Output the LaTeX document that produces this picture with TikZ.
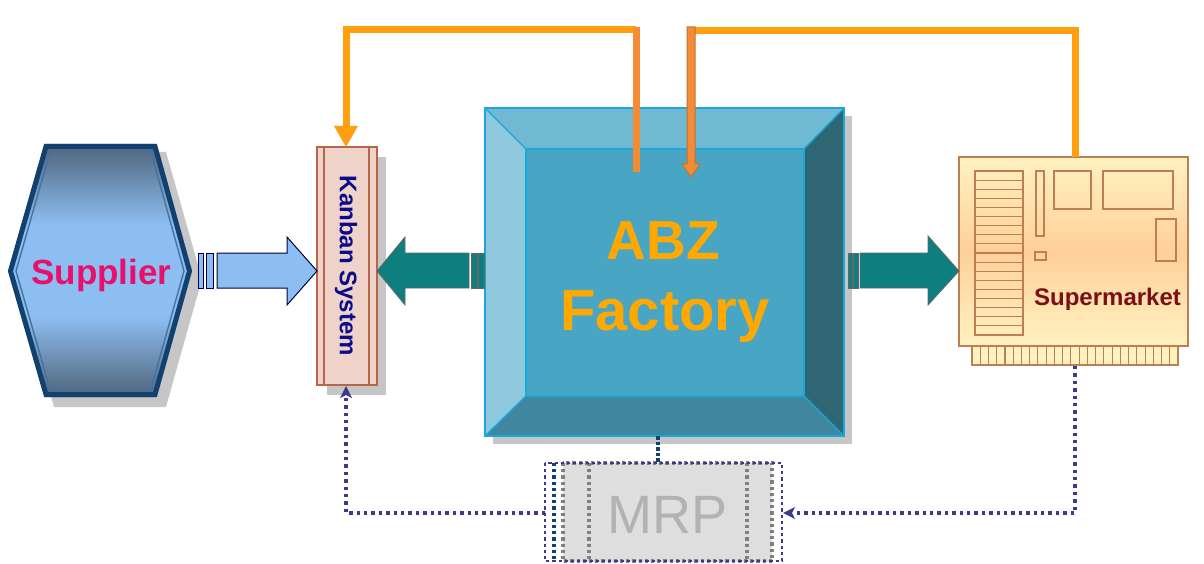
\documentclass[tikz,border=0pt]{standalone}
\usepackage{fontspec}
\setmainfont{Liberation Sans}
\usetikzlibrary{arrows.meta}
\definecolor{hexedge}{HTML}{12406F}
\definecolor{hexdark}{HTML}{506479}
\definecolor{hexlight}{HTML}{8DBEF2}
\definecolor{shadowgray}{HTML}{C6C6C6}
\definecolor{orangeline}{HTML}{FF9E0F}
\definecolor{orangesoft}{HTML}{F58C35}
\definecolor{orangedark}{HTML}{B8743A}
\definecolor{tealarrow}{HTML}{0E7F7F}
\definecolor{edgeblue}{HTML}{1CA6DE}
\definecolor{navydot}{HTML}{3A3A8C}
\definecolor{brownline}{HTML}{BD7F4F}
\definecolor{kanbanfill}{HTML}{EFD3C8}
\definecolor{kanbanline}{HTML}{B5654A}
\definecolor{facetop}{HTML}{6FB9D2}
\definecolor{faceleft}{HTML}{8FC8DC}
\definecolor{faceright}{HTML}{2F6674}
\definecolor{facebottom}{HTML}{3F879F}
\definecolor{facecenter}{HTML}{48A6C4}
\definecolor{factext}{HTML}{FFA800}
\definecolor{supplytext}{HTML}{E8106A}
\definecolor{kanbantextc}{HTML}{0A0A8C}
\definecolor{markettextc}{HTML}{7A0F14}
\definecolor{marketlight}{HTML}{FFF2C0}
\definecolor{marketmid}{HTML}{FFCF9A}
\pgfdeclareverticalshading{hexshade}{100bp}{
  color(0bp)=(hexdark); color(25bp)=(hexdark); color(41bp)=(hexlight); color(59bp)=(hexlight); color(75bp)=(hexdark); color(100bp)=(hexdark)}
\tikzset{
  x=1pt,y=-1pt,
  box/.style={rectangle,inner sep=0pt,outer sep=0pt},
  lightarrow/.style={draw=black!75!blue,line width=1pt,fill=hexlight},
  tealshape/.style={draw=black!60,line width=0.8pt,fill=tealarrow},
  orangeflow/.style={draw=orangeline,line width=7pt,line join=miter},
  softflow/.style={draw=orangesoft,line width=7pt},
  dotflow/.style={draw=navydot,line width=3.4pt,dash pattern=on 3.4pt off 4pt},
  smallbox/.style={draw=brownline,line width=1.4pt},
  fineline/.style={draw=brownline,line width=1.1pt},
  mrpdots/.style={line width=3.2pt,dash pattern=on 3.2pt off 3pt}
}
\newcommand{\pxfont}[1]{\fontsize{#1}{#1}\selectfont}
\begin{document}
\begin{tikzpicture}
\useasboundingbox (0,0) rectangle (1204,564);
\fill[white] (0,0) rectangle (1204,564);

% shadows
\fill[shadowgray] (54,152)--(166,152)--(202,279)--(166,407)--(54,407)--(18,279)--cycle;
\fill[shadowgray] (327,157) rectangle (386,395);
\fill[shadowgray] (493,116) rectangle (852,444);

% --- Supplier
\path[shading=hexshade,draw=none] (45,144)--(156,144)--(192,271)--(156,397)--(45,397)--(8,271)--cycle;
\draw[hexedge,line width=5pt,line join=miter] (46,146.5)--(155,146.5)--(189.5,271)--(155,394.5)--(46,394.5)--(10.5,271)--cycle;
\draw[hexedge!60!hexlight,line width=1.4pt] (50,152)--(151,152)--(184,271)--(151,389)--(50,389)--(16,271)--cycle;
\node[box,minimum width=184pt,minimum height=253pt] (supplier) at (100,271) {};
\node[anchor=base,font=\bfseries\pxfont{35},text=supplytext,inner sep=0pt] (suppliertext) at (101.5,284) {Supplier};

% --- Kanban
\node[box,draw=kanbanline,fill=kanbanfill,line width=1.3pt,minimum width=60pt,minimum height=238pt] (kanban) at (347,266) {};
\draw[kanbanline,line width=1.3pt] (324,147)--(324,385) (369,147)--(369,385);
\node[rotate=-90,font=\bfseries\pxfont{24},text=kanbantextc,inner sep=0pt] (kanbantext) at (346,266) {Kanban System};

% --- Factory
\node[box,minimum width=359pt,minimum height=328pt] (factory) at (664.5,272) {};
\fill[facetop] (485,108)--(844,108)--(804,149)--(526,149)--cycle;
\fill[faceleft] (485,108)--(526,149)--(526,396)--(485,436)--cycle;
\fill[faceright] (844,108)--(844,436)--(804,396)--(804,149)--cycle;
\fill[facebottom] (485,436)--(526,396)--(804,396)--(844,436)--cycle;
\fill[facecenter] (526,149) rectangle (804,396);
\draw[edgeblue,line width=2.4pt] (485,108) rectangle (844,436) (526,149) rectangle (804,396);
\draw[edgeblue,line width=1.4pt] (485,108)--(526,149) (844,108)--(804,149) (485,436)--(526,396) (844,436)--(804,396);
\node[anchor=base,font=\bfseries\pxfont{55},text=factext,inner sep=0pt] (abz) at (663.5,259) {ABZ};
\node[anchor=base,font=\bfseries\pxfont{58},text=factext,inner sep=0pt] (factorytext) at (665,330) {Factory};

% --- Supermarket
\path[top color=marketlight,bottom color=marketlight,middle color=marketmid,draw=none] (959,157) rectangle (1188,346);
\node[box,draw=brownline,line width=1.4pt,minimum width=229pt,minimum height=189pt] (market) at (1073.5,251.5) {};
\draw[smallbox] (975,171) rectangle (1023,335);
\foreach \r in {1,...,17} \draw[fineline] (975,{171+\r*164/18}) -- (1023,{171+\r*164/18});
\draw[smallbox] (1036,171) rectangle (1044,236);
\draw[smallbox] (1035,252) rectangle (1046,260);
\draw[smallbox] (1054,171) rectangle (1091,209);
\draw[smallbox] (1103,171) rectangle (1173,209);
\draw[smallbox] (1156,219) rectangle (1176,261);
\draw[fineline,fill=marketlight] (972,346) rectangle (1178,365);
\foreach \r in {1,...,24} \draw[fineline] ({972+\r*206/25},346) -- ({972+\r*206/25},365);
\node[anchor=base,font=\bfseries\pxfont{24},text=markettextc,inner sep=0pt] (markettext) at (1107.5,305) {Supermarket};

% --- MRP
\node[box,fill=black!13,minimum width=209pt,minimum height=99pt] (mrp) at (667.5,512.5) {};
\draw[black!50,mrpdots] (589,463)--(589,562);
\draw[black!50,mrpdots] (747,463)--(747,562);
\draw[black!50,mrpdots] (563,463) rectangle (772,561);
\draw[navydot,mrpdots,line width=2.6pt] (545,463) rectangle (782,561);
\draw[hexedge,mrpdots] (554,463)--(554,561);
\node[anchor=base,font=\pxfont{54},text=black!30,inner sep=0pt] (mrptext) at (667.5,533) {MRP};

% block arrows
\coordinate (ya) at (0,271);
\draw[lightarrow] (198,253) rectangle (203,288);
\draw[lightarrow] (206,253) rectangle (213,288);
\draw[lightarrow] (217,253)--(287,253)--(287,237)--(kanban.west |- ya)--(287,305)--(287,288)--(217,288)--cycle;
\draw[tealshape] (kanban.east |- ya)--(405,237)--(405,253)--(469,253)--(469,288)--(405,288)--(405,305)--cycle;
\draw[tealshape] (471,253) rectangle (477,288);
\draw[tealshape] (478,253) rectangle (484,288);
\draw[tealshape] (848,253) rectangle (852,288);
\draw[tealshape] (853,253) rectangle (858,288);
\draw[tealshape] (860,253)--(928,253)--(928,236)--(market.west |- ya)--(928,305)--(928,288)--(860,288)--cycle;

% orange connectors
\coordinate (hop1) at (636,30);
\coordinate (hop2) at (346,30);
\coordinate (hop3) at (1075,31);
\coordinate (hop4) at (691,31);
\coordinate (start1) at (636,172);
\coordinate (end2) at (691,177);
\coordinate (kanhead) at (346,126);
\draw[orangeflow] (hop1) -- (hop2) -- (kanhead);
\fill[orangeline] (334,126)--(358,126)--(hop2 |- kanban.north)--cycle;
\draw[orangeflow] (market.north -| hop3) -- (hop3) -- (hop4);
\draw[softflow] (start1) -- (636,27);
\draw[draw=orangedark,fill=orangesoft,line width=1pt] (687,27)--(695,27)--(695,164)--(700,164)--(end2)--(682,164)--(687,164)--cycle;

% dotted connectors
\coordinate (hop5) at (1075,513);
\coordinate (hop6) at (346,513);
\coordinate (mrpin) at (795,513);
\coordinate (mrpout) at (545,513);
\coordinate (kanin) at (346,398);
\coordinate (drop) at (658,0);
\coordinate (mrptop) at (658,463);
\coordinate (marketfoot) at (1075,366);
\draw[hexedge,line width=3.5pt,dash pattern=on 3.5pt off 2pt] (factory.south -| drop) -- (mrptop);
\draw[dotflow] (marketfoot) -- (hop5) -- (mrpin);
\fill[navydot] (783,513)--(795,507)--(792,513)--(795,519)--cycle;
\draw[dotflow] (mrpout) -- (hop6) -- (kanin);
\fill[navydot] (346,386)--(340,398)--(346,395)--(352,398)--cycle;
\end{tikzpicture}
\end{document}
